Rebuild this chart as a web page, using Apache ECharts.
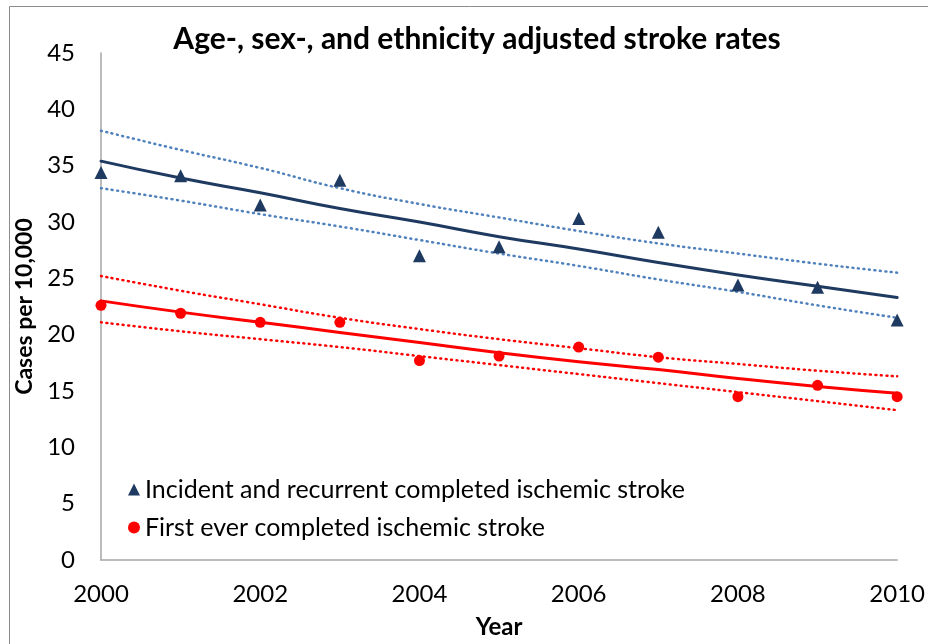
<!DOCTYPE html>
<html><head><meta charset="utf-8">
<script src="https://cdn.jsdelivr.net/npm/echarts@6/dist/echarts.min.js"></script>
<style>html,body{margin:0;padding:0;background:#fff}#c{width:928px;height:644px}</style>
</head><body><div id="c"></div>
<script>
const years = [2000,2001,2002,2003,2004,2005,2006,2007,2008,2009,2010];
const xTicks = [2000,2002,2004,2006,2008,2010];
const incidentRecurrent = [34.4,34.1,31.5,33.7,27.0,27.8,30.3,29.1,24.4,24.2,21.3];
const firstEver = [22.6,21.9,21.1,21.1,17.7,18.1,18.9,18.0,14.5,15.5,14.5];
const incidentFit = [35.4,33.9,32.6,31.2,30.0,28.7,27.6,26.4,25.3,24.3,23.3];
const incidentUpper = [38.1,36.4,34.8,33.0,31.6,30.4,29.2,28.1,27.2,26.3,25.5];
const incidentLower = [33.0,31.9,30.7,29.6,28.4,27.2,26.1,24.9,23.8,22.6,21.5];
const firstFit = [23.0,22.0,21.1,20.2,19.3,18.4,17.6,16.9,16.1,15.4,14.8];
const firstUpper = [25.2,23.9,22.7,21.5,20.5,19.6,18.8,18.0,17.4,16.8,16.3];
const firstLower = [21.1,20.3,19.6,18.9,18.1,17.3,16.5,15.7,14.9,14.1,13.3];
const seriesNames = ['Incident and recurrent completed ischemic stroke','First ever completed ischemic stroke'];

const pair = arr => years.map((y,i)=>[y,arr[i]]);
const FONT = 'Lato';
const navy = '#1F3A60', blueDot = '#4F81BD', red = '#FF0000';

const chart = echarts.init(document.getElementById('c'), null, {renderer:'canvas'});
function lineSeries(data,color,width,type){
  return {type:'line',data:pair(data),smooth:true,showSymbol:false,silent:true,
    lineStyle:{color:color,width:width,type:type,cap:'round'},z:2};
}
chart.setOption({
  animation:false,
  textStyle:{fontFamily:FONT},
  graphic:[{type:'rect',shape:{x:9.5,y:6.5,width:940,height:660},style:{fill:null,stroke:'#8c8c8c',lineWidth:1},silent:true}],
  title:{text:'Age-, sex-, and ethnicity adjusted stroke rates',left:472,textAlign:'center',top:19,
    textStyle:{fontFamily:FONT,fontWeight:'bold',fontSize:30,color:'#000'}},
  legend:{orient:'vertical',left:123,top:472,itemGap:13,itemWidth:12,itemHeight:12,
    data:[{name:seriesNames[0],icon:'triangle'},{name:seriesNames[1],icon:'circle'}],
    textStyle:{fontFamily:FONT,fontSize:25,color:'#000'}},
  grid:{left:101,right:28,top:53,bottom:83,containLabel:false},
  xAxis:{type:'value',min:2000,max:2010,interval:2,
    name:'Year',nameLocation:'middle',nameGap:55,
    nameTextStyle:{fontFamily:FONT,fontWeight:'bold',fontSize:24,color:'#000'},
    axisLine:{lineStyle:{color:'#A6A6A6',width:1.5}},axisTick:{show:false},splitLine:{show:false},
    axisLabel:{margin:22,fontFamily:FONT,fontSize:24,color:'#000',
      customValues:xTicks,formatter:v=>String(v)}},
  yAxis:{type:'value',min:0,max:45,interval:5,
    name:'Cases per 10,000',nameLocation:'middle',nameGap:59,nameRotate:90,
    nameTextStyle:{fontFamily:FONT,fontWeight:'bold',fontSize:23,color:'#000'},
    axisLine:{show:true,lineStyle:{color:'#A6A6A6',width:1.5}},axisTick:{show:false},splitLine:{show:false},
    axisLabel:{margin:26,fontFamily:FONT,fontSize:24,color:'#000'}},
  series:[
    lineSeries(incidentUpper,blueDot,2.5,[1,4.5]),
    lineSeries(incidentLower,blueDot,2.5,[1,4.5]),
    lineSeries(incidentFit,navy,3,'solid'),
    lineSeries(firstUpper,red,2.5,[1,4.5]),
    lineSeries(firstLower,red,2.5,[1,4.5]),
    lineSeries(firstFit,red,3,'solid'),
    {name:seriesNames[0],type:'scatter',data:pair(incidentRecurrent),symbol:'triangle',symbolSize:13,
      itemStyle:{color:navy,opacity:1},z:5},
    {name:seriesNames[1],type:'scatter',data:pair(firstEver),symbol:'circle',symbolSize:11,
      itemStyle:{color:red,opacity:1},z:5}
  ]
});
</script></body></html>
